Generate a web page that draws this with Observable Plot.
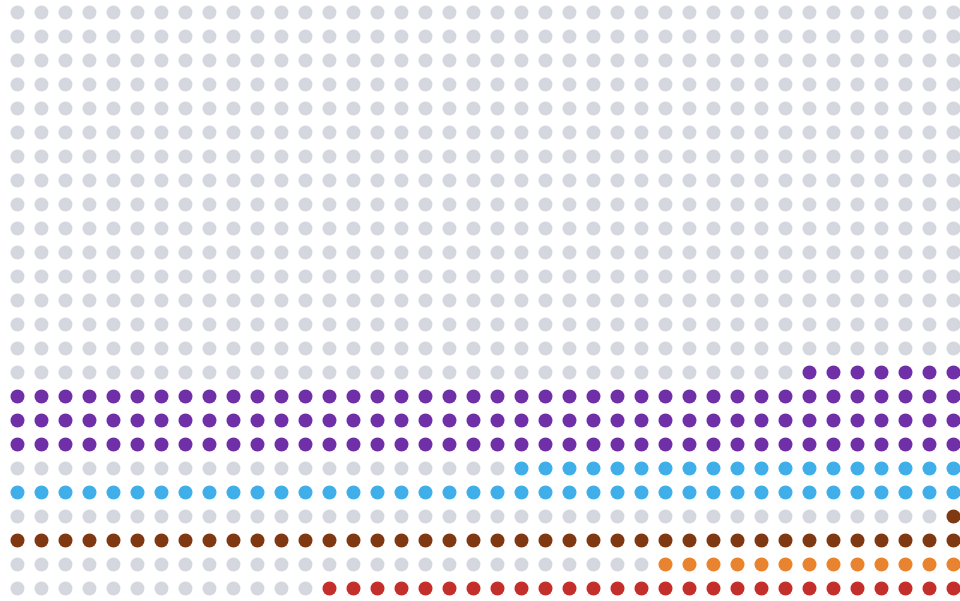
<!DOCTYPE html>
<html>
<head>
<meta charset="utf-8">
<script src="https://cdn.jsdelivr.net/npm/d3@7"></script>
<script src="https://cdn.jsdelivr.net/npm/@observablehq/plot@0.6"></script>
<style>
  html, body { margin: 0; padding: 0; background: #ffffff; overflow: hidden; }
  #chart svg { display: block; }
</style>
</head>
<body>
<div id="chart"></div>
<script>
// Categories listed from the bottom band upward
const categories = ["red", "orange", "brown", "cyan", "purple"];
const counts = [27, 13, 41, 59, 127];
const bandRows = [1, 1, 2, 2, 4];
const colors = ["#c3302b", "#e8842f", "#7e3812", "#40afe9", "#6f2fa6"];
const emptyColor = "#d4d8de";
const nCols = 40;
const nRows = 25;

// Build the grid of cells (layout only)
const cells = [];
let rowBottom = nRows - 1;
const filled = new Map();
categories.forEach((cat, i) => {
  let n = counts[i];
  for (let r = 0; r < bandRows[i]; r++) {
    const row = rowBottom - r;
    const k = Math.min(n, nCols);
    for (let c = nCols - k; c < nCols; c++) filled.set(row + "," + c, cat);
    n -= k;
  }
  rowBottom -= bandRows[i];
});
for (let row = 0; row < nRows; row++) {
  for (let col = 0; col < nCols; col++) {
    cells.push({row, col, cat: filled.get(row + "," + col) || "empty"});
  }
}

const chart = Plot.plot({
  width: 960,
  height: 601,
  margin: 0,
  x: {domain: [0, nCols - 1], range: [17, 953], axis: null},
  y: {domain: [0, nRows - 1], range: [12, 588], axis: null},
  color: {domain: [...categories, "empty"], range: [...colors, emptyColor]},
  marks: [
    Plot.dot(cells, {x: "col", y: "row", r: 7, fill: "cat", stroke: null})
  ]
});
document.getElementById("chart").appendChild(chart);
</script>
</body>
</html>
